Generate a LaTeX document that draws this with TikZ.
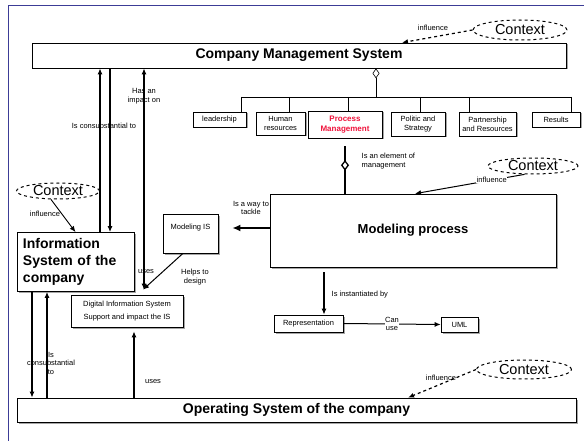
\documentclass[tikz,border=0pt]{standalone}
\usepackage{fontspec}
\setmainfont{Liberation Sans}
\usetikzlibrary{arrows.meta,shapes.geometric,shadows}

\definecolor{framecol}{RGB}{60,60,150}
\definecolor{pmred}{RGB}{240,20,60}

\tikzset{
  box/.style={draw, fill=white, line width=0.7pt, align=center, inner sep=1pt,
    font=\fontsize{7.5}{9}\selectfont,
    drop shadow={shadow xshift=1.5pt, shadow yshift=-1.5pt, fill=gray!70, opacity=1}},
  bigbox/.style={box, font=\bfseries\fontsize{14}{17}\selectfont},
  context/.style={ellipse, draw, dashed, line width=1pt, inner sep=0pt,
    font=\fontsize{14.5}{16}\selectfont},
  lbl/.style={font=\fontsize{7.5}{8.5}\selectfont, align=center, inner sep=0.5pt},
  link/.style={line width=1.2pt, -{Latex[length=6pt,width=5pt]}},
}

\begin{document}
\begin{tikzpicture}[x=1pt, y=-1pt]
\useasboundingbox (0,0) rectangle (584,441);
\draw[framecol, line width=0.8pt] (8,441) -- (8,5) -- (584,5);

% top level
\node[bigbox, minimum width=534pt, minimum height=25pt] (cms) at (299,55.5) {Company Management System};
\node[context, minimum width=94pt, minimum height=20pt] (ctx1) at (520,30) {Context};
\draw[link, dashed] (ctx1.west) -- ([xshift=103pt]cms.north);
\node[lbl] (inf1) at (433,28) {influence};

% management parts
\foreach \name/\cx/\cy/\w/\h/\text in {
	lead/219.5/119.5/53/15/leadership,
	hr/280.5/123.5/49/23/{Human\\resources},
	pol/418/124/54/24/{Politic and\\Strategy},
	part/487.5/124/57/24/{Partnership\\and Resources},
	res/556/119.5/48/15/Results}
\node[box, minimum width=\w pt, minimum height=\h pt] (\name) at (\cx,\cy) {\text};
\node[box, minimum width=74pt, minimum height=27pt, text=pmred,
  font=\bfseries\fontsize{8}{10}\selectfont] (pm) at (345,124.5) {Process\\Management};

\coordinate (diam) at (376,97);
\draw[line width=0.6pt, {Diamond[open,length=10pt,width=7pt]}-] (cms.south -| diam) -- (diam);
\coordinate (busL) at (241,97);
\coordinate (busR) at (571,97);
\draw[line width=0.8pt] (busL) -- (busR);
\foreach \name/\tx in {lead/241, hr/289, pm/348, pol/420, part/469, res/571} {
	\coordinate (bus\name) at (\tx,97);
	\draw[line width=0.8pt] (bus\name) -- (bus\name |- \name.north);
}

% modeling process
\node[box, minimum width=286pt, minimum height=73pt,
  font=\bfseries\fontsize{13}{15}\selectfont] (mp) at (413,230.5) {Modeling process};
\draw[line width=1.5pt] ([yshift=-8pt]pm.south) -- (pm.south |- mp.north)
  node[pos=0.4, diamond, draw, fill=white, line width=1.3pt, inner sep=0pt,
  minimum width=7pt, minimum height=9pt] (dm) {};
\node[lbl, align=left, anchor=west] (elem) at (361,161) {Is an element of\\management};
\node[context, minimum width=90pt, minimum height=16pt] (ctx2) at (533,166) {Context};
\draw[link, line width=1pt] (ctx2.225) -- ([xshift=2pt]mp.north)
  node[lbl, pos=0.3, fill=white] (inf2) {influence};

% information system
\node[bigbox, text width=105pt, align=left, inner sep=6pt, minimum height=58pt] (is) at (75.5,262)
  {Information\\System of the\\company};
\node[context, minimum width=83pt, minimum height=16pt] (ctx3) at (58,191) {Context};
\draw[link, line width=0.9pt] (ctx3.230) -- (is.north);
\node[lbl] (inf3) at (45,214) {influence};

\node[box, minimum width=55pt, minimum height=39pt, text height=5pt, text depth=13pt] (mis) at (190.5,233.5) {Modeling IS};
\draw[line width=2.2pt, -{Latex[length=8pt,width=7pt]}] ([yshift=2.5pt]mp.west) -- ([xshift=14pt,yshift=5.5pt]mis.east);
\node[lbl] (tackle) at (251,208) {Is a way to\\tackle};

\node[box, minimum width=112pt, minimum height=32pt] (dis) at (127,311)
  {Digital Information System\\[4pt]Support and impact the IS};

\draw[link] ([xshift=24.5pt]is.north) -- ([xshift=24.5pt]is.north |- cms.south);
\draw[link] ([xshift=34.5pt]is.north |- cms.south) -- ([xshift=34.5pt]is.north);
\node[lbl] (cons1) at (104,126) {Is consubstantial to};
\draw[line width=1.2pt, {Latex[length=6pt,width=5pt]}-{Latex[length=6pt,width=5pt]}]
  ([xshift=17pt,yshift=5pt]dis.north) -- ([xshift=17pt]dis.north |- cms.south);
\node[lbl] (impact) at (144,96) {Has an\\impact on};
\node[lbl] (uses1) at (146,272) {uses};
\draw[line width=1pt, -{Latex[length=6pt,width=5pt]}] ([xshift=-7.5pt]mis.south) -- ([xshift=16pt,yshift=5pt]dis.north);
\node[lbl] (helps) at (195,277) {Helps to\\design};

% representation
\node[box, minimum width=69pt, minimum height=17pt] (rep) at (308.5,323.5) {Representation};
\node[box, minimum width=37pt, minimum height=15pt] (uml) at (459.5,324.5) {UML};
\draw[link, shorten <=5pt] ([xshift=15.5pt]rep.north |- mp.south) -- ([xshift=15.5pt]rep.north);
\node[lbl, anchor=west] (inst) at (331,295) {Is instantiated by};
\draw[line width=1pt, -{Latex[length=6pt,width=5pt]}] (rep.east) -- (uml.west)
  node[lbl, midway, fill=white] (canuse) {Can\\use};

% operating system
\node[bigbox, minimum width=559pt, minimum height=24pt] (os) at (296.5,410) {Operating System of the company};
\node[context, minimum width=95pt, minimum height=19pt] (ctx4) at (524,369.5) {Context};
\draw[link, dashed] (ctx4.west) -- ([xshift=111.5pt]os.north);
\node[lbl] (inf4) at (441,378) {influence};

\draw[link] ([xshift=-43.5pt]is.south) -- ([xshift=-43.5pt]is.south |- os.north);
\draw[link] ([xshift=-28.5pt]is.south |- os.north) -- ([xshift=-28.5pt]is.south);
\node[lbl] (cons2) at (51,363) {Is\\consubstantial\\to};
\draw[link] ([xshift=7pt]dis.south |- os.north) -- ([xshift=7pt,yshift=-4pt]dis.south);
\node[lbl] (uses2) at (153,382) {uses};

\end{tikzpicture}
\end{document}
